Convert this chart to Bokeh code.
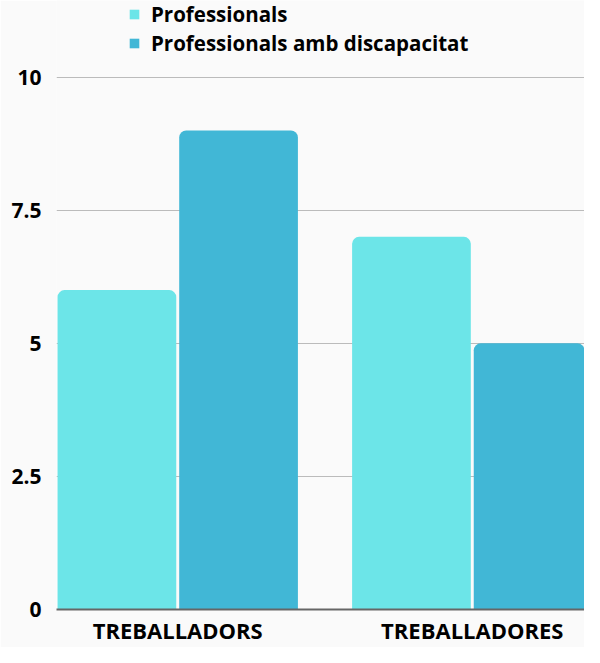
from bokeh.plotting import figure
from bokeh.models import ColumnDataSource, FixedTicker, Range1d, Legend, LegendItem
from bokeh.transform import dodge
from bokeh.embed import file_html
from bokeh.resources import INLINE

categories = ["TREBALLADORS", "TREBALLADORES"]
series_names = ["Professionals", "Professionals amb discapacitat"]
professionals = [6, 7]
discapacitat = [9, 5]
y_ticks = [0, 2.5, 5, 7.5, 10]
y_tick_labels = ["0", "2.5", "5", "7.5", "10"]

colors = ["#6ce5e8", "#41b7d6"]
FONT = "Open Sans"

src = ColumnDataSource(dict(
    x=list(range(len(categories))),
    a=professionals,
    b=discapacitat,
))

p = figure(width=584, height=647, output_backend="svg", toolbar_location=None,
           x_range=Range1d(-0.4116, 1.381), y_range=Range1d(0, 11.44),
           min_border_left=56, min_border_right=0, min_border_top=0, min_border_bottom=36)

p.background_fill_color = "#fafafa"
p.border_fill_color = "#fafafa"
p.outline_line_color = None

r1 = p.vbar(x=dodge("x", -0.2065, range=p.x_range), top="a", width=0.403, source=src,
            fill_color=colors[0], line_color=None, border_radius=(7, 7, 0, 0))
r2 = p.vbar(x=dodge("x", 0.2065, range=p.x_range), top="b", width=0.403, source=src,
            fill_color=colors[1], line_color=None, border_radius=(7, 7, 0, 0))


def make_legend(label, renderer, loc):
    lg = Legend(items=[LegendItem(label=label, renderers=[renderer])], location=loc)
    lg.background_fill_alpha = 0
    lg.border_line_color = None
    lg.padding = 0
    lg.spacing = 0
    lg.glyph_width = 12
    lg.glyph_height = 12
    lg.label_standoff = 11
    lg.label_text_font = FONT
    lg.label_text_font_style = "bold"
    lg.label_text_font_size = "20.5px"
    lg.label_text_color = "#000000"
    return lg


p.add_layout(make_legend(series_names[0], r1, (72, 581)))
p.add_layout(make_legend(series_names[1], r2, (72, 552)))

p.xgrid.grid_line_color = None
p.ygrid.grid_line_color = "#bbbbbb"
p.ygrid.grid_line_width = 1
p.ygrid.ticker = FixedTicker(ticks=y_ticks)

p.yaxis.ticker = FixedTicker(ticks=y_ticks)
p.yaxis.major_label_overrides = {t: l for t, l in zip(y_ticks, y_tick_labels)}
p.yaxis.axis_line_color = None
p.yaxis.major_tick_line_color = None
p.yaxis.minor_tick_line_color = None
p.yaxis.major_tick_out = 0
p.yaxis.major_tick_in = 0
p.yaxis.minor_tick_out = 0
p.yaxis.major_label_standoff = 15
p.yaxis.major_label_text_font = FONT
p.yaxis.major_label_text_font_style = "bold"
p.yaxis.major_label_text_font_size = "21px"
p.yaxis.major_label_text_color = "#000000"

p.xaxis.ticker = FixedTicker(ticks=list(range(len(categories))))
p.xaxis.major_label_overrides = {i: c for i, c in enumerate(categories)}
p.xaxis.axis_line_color = "#666666"
p.xaxis.axis_line_width = 2
p.xaxis.major_tick_line_color = None
p.xaxis.minor_tick_line_color = None
p.xaxis.major_tick_out = 0
p.xaxis.major_tick_in = 0
p.xaxis.minor_tick_out = 0
p.xaxis.major_label_standoff = 5
p.xaxis.major_label_text_font = FONT
p.xaxis.major_label_text_font_style = "bold"
p.xaxis.major_label_text_font_size = "22px"
p.xaxis.major_label_text_color = "#000000"

open("out.html", "w").write(file_html(p, INLINE))
